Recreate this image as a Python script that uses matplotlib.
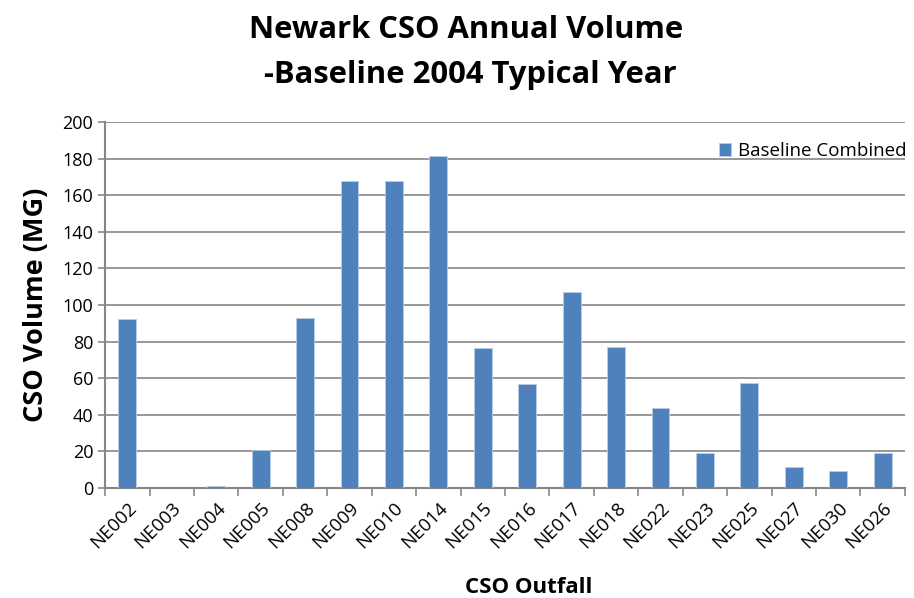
import matplotlib
matplotlib.use('Agg')
import matplotlib.pyplot as plt
import numpy as np

plt.rcParams['font.family'] = ['Open Sans', 'DejaVu Sans']

# data
outfalls = ['NE002', 'NE003', 'NE004', 'NE005', 'NE008', 'NE009', 'NE010', 'NE014', 'NE015',
            'NE016', 'NE017', 'NE018', 'NE022', 'NE023', 'NE025', 'NE027', 'NE030', 'NE026']
volumes = [92.5, 0, 1, 21, 92.9, 167.6, 167.6, 181.4, 76.7,
           57.0, 107.1, 76.9, 43.7, 19.3, 57.4, 11.7, 9.5, 18.9]
yticks = [0, 20, 40, 60, 80, 100, 120, 140, 160, 180, 200]

fig = plt.figure(figsize=(9.14, 5.98), dpi=100)
ax = fig.add_axes([0.115, 0.184, 0.875, 0.612])

x = np.arange(len(outfalls))
ax.bar(x, volumes, width=0.4, color='#4f81bd', edgecolor='#b9cde5', linewidth=0.6,
       label='Baseline Combined', zorder=3)

ax.set_xlim(-0.5, len(outfalls) - 0.5)
ax.set_ylim(0, 200)
ax.set_yticks(yticks)
ax.tick_params(axis='y', labelsize=13, length=5, color='#868686', width=1.2)
ax.yaxis.grid(True, color='#868686', linewidth=1.2, zorder=0)

# x ticks at category boundaries, labels centred under bars
ax.set_xticks(np.arange(len(outfalls) + 1) - 0.5)
ax.set_xticklabels([])
ax.set_xticks(x, minor=True)
ax.set_xticklabels(outfalls, minor=True, rotation=45, ha='right', va='top',
                   rotation_mode='anchor', fontsize=13.5)
ax.tick_params(axis='x', which='major', length=6, color='#868686', width=1.2)
ax.tick_params(axis='x', which='minor', length=0, pad=8)

for side in ['top', 'right']:
    ax.spines[side].set_visible(False)
for side in ['left', 'bottom']:
    ax.spines[side].set_color('#868686')
    ax.spines[side].set_linewidth(1.5)

ax.set_ylabel('CSO Volume (MG)', fontsize=19.5, fontweight='bold', labelpad=10)
ax.set_xlabel('CSO Outfall', fontsize=16, fontweight='bold', labelpad=18)
ax.xaxis.label.set_x(0.53)
fig.suptitle('Newark CSO Annual Volume\n -Baseline 2004 Typical Year', fontsize=22.3,
             fontweight='bold', x=0.51, y=0.975, linespacing=1.65)

ax.legend(loc='upper right', bbox_to_anchor=(1.012, 0.965), frameon=False, fontsize=13.5,
          handlelength=0.65, handleheight=0.65, handletextpad=0.4, borderaxespad=0)

fig.savefig('out.png', dpi=100)
